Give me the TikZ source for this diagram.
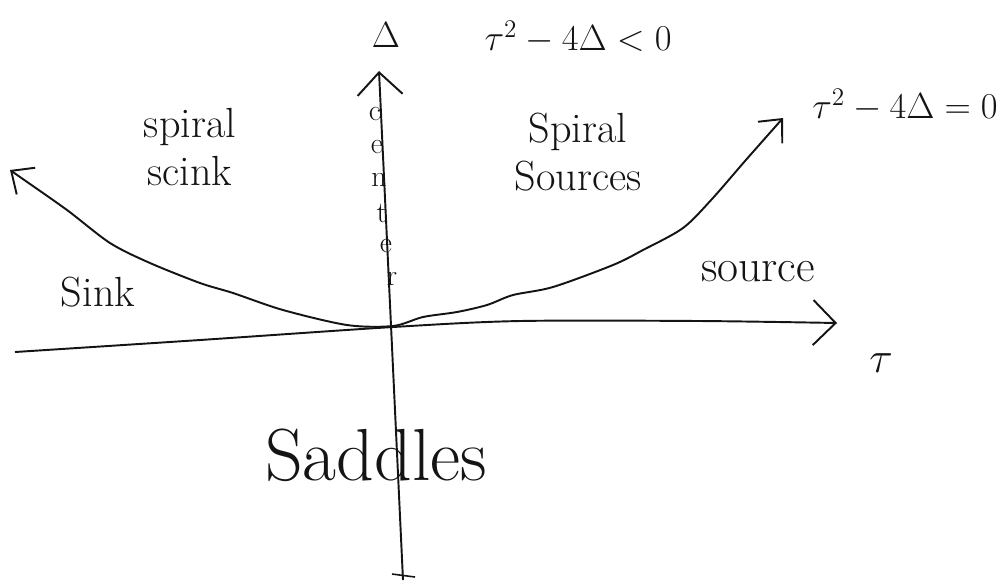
\documentclass[tikz,border=0pt]{standalone}
\usepackage{amsmath}
\usetikzlibrary{arrows.meta}
\definecolor{mydark}{RGB}{20,20,20}
\tikzset{
  axis/.style={-{Straight Barb[length=4.5mm,width=9mm,line width=1.1pt]},
    line width=1.1pt, color=mydark},
  bound/.style={{Straight Barb[length=3.6mm,width=6.5mm,line width=1.1pt]}-{Straight Barb[length=3.6mm,width=6.5mm,line width=1.1pt]},
    line width=1.1pt, color=mydark},
  tick/.style={line width=0.9pt, color=mydark},
  lbl/.style={font=\fontsize{24}{27}\selectfont, align=center,
    inner sep=0pt, text=mydark},
  eqlbl/.style={font=\fontsize{20}{24}\selectfont, inner sep=0pt, text=mydark},
  biglbl/.style={font=\fontsize{42}{46}\selectfont, inner sep=0pt, text=mydark},
  letter/.style={font=\fontsize{17}{17}\selectfont, inner sep=0pt, text=mydark}
}
\begin{document}
\begin{tikzpicture}[x=0.02cm, y=-0.02cm]
  \useasboundingbox (0,0) rectangle (1003,583);
  % axes
  \coordinate (tleft) at (15,352);
  \coordinate (tright) at (837,323);
  \coordinate (dbot) at (403,580);
  \coordinate (dtop) at (379,71);
  \draw[axis] plot[smooth] coordinates {(tleft) (200,340) (393,327) (520,321) (700,321) (tright)};
  \draw[axis] (dbot) -- (dtop);
  \coordinate (ticka) at (392,574);
  \coordinate (tickb) at (415,577);
  \draw[tick] (ticka) -- (tickb);
  % tau^2 - 4 Delta = 0
  \draw[bound] plot[smooth] coordinates {(10,170) (20,177) (67,210) (110,243)
    (150,263) (200,283) (233,293) (283,310) (347,325) (393,326) (423,317)
    (457,312) (487,305) (513,295) (553,287) (613,265) (643,250) (683,228)
    (712,199) (745,161) (783,118)};
  % labels
  \node[eqlbl] (dlbl) at (386,35) {$\Delta$};
  \node[eqlbl] (inside) at (578,37) {$\tau^2-4\Delta<0$};
  \node[eqlbl] (parab) at (905,105) {$\tau^2-4\Delta=0$};
  \node[eqlbl, font=\fontsize{26}{26}\selectfont] (tlbl) at (881,363) {$\tau$};
  \node[lbl] (spsink) at (190,147) {spiral\\scink};
  \node[lbl] (spsrc) at (578,152) {Spiral\\Sources};
  \node[lbl] (sink) at (98,292) {Sink};
  \node[lbl, font=\fontsize{26}{28}\selectfont] (src) at (758,272) {source};
  \node[biglbl] (sad) at (376,455) {Saddles};
  % center, written down the axis
  \foreach \ch/\x/\y [count=\i] in {c/375/114, e/377/147, n/379/180, t/382/213, e/386/246, r/392/279}
    \node[letter] (cen\i) at (\x,\y) {\ch};
\end{tikzpicture}
\end{document}
